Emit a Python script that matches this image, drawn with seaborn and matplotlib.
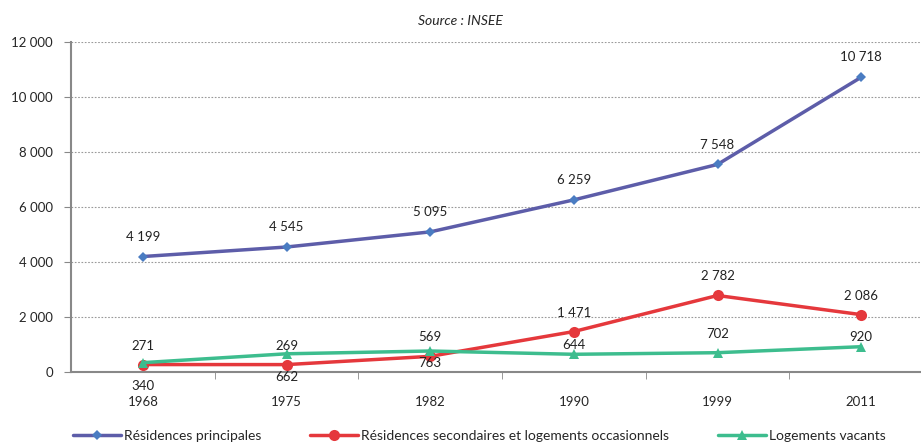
import numpy as np
import pandas as pd
import matplotlib
matplotlib.use("Agg")
import matplotlib.pyplot as plt
import seaborn as sns
from matplotlib.ticker import FuncFormatter, FixedLocator

# Data
years = ["1968", "1975", "1982", "1990", "1999", "2011"]
principales = [4199, 4545, 5095, 6259, 7548, 10718]
secondaires = [271, 269, 569, 1471, 2782, 2086]
vacants = [340, 662, 763, 644, 702, 920]

series_names = ["Résidences principales",
                "Résidences secondaires et logements occasionnels",
                "Logements vacants"]

df = pd.DataFrame({"Année": years * 3,
                   "Valeur": principales + secondaires + vacants,
                   "Série": [series_names[0]] * 6 + [series_names[1]] * 6 + [series_names[2]] * 6})

sns.set_style("white")
plt.rcParams["font.family"] = ["Lato", "DejaVu Sans"]

fig = plt.figure(figsize=(9.21, 4.45), dpi=100)
ax = fig.add_axes([71 / 921, 73 / 445, 862 / 921, 330 / 445])

palette = {series_names[0]: "#5D5DA9",
           series_names[1]: "#E5383C",
           series_names[2]: "#3DBD8E"}
markers = {series_names[0]: "D", series_names[1]: "o", series_names[2]: "^"}
msizes = {series_names[0]: 5, series_names[1]: 8, series_names[2]: 7}

for name in series_names:
    sub = df[df["Série"] == name]
    sns.lineplot(data=sub, x="Année", y="Valeur", ax=ax, color=palette[name],
                 marker=markers[name], markersize=msizes[name], linewidth=2.5,
                 markeredgewidth=0, label=name, sort=False)

# marker colour of the blue series is a bit brighter than its line
ax.lines[0].set_markerfacecolor("#4A7CC2")

# data labels (pixel offsets, as placed in the original)
off_p = [20, 20, 20, 20, 19, 20]
off_s = [19, 19, 19, 19, 19, 19]
off_v = [-23, -23, -12, 9, 19, 10]
fmt = lambda v: f"{v:,}".replace(",", " ")
for vals, offs in [(principales, off_p), (secondaires, off_s), (vacants, off_v)]:
    for i, (v, o) in enumerate(zip(vals, offs)):
        ax.annotate(fmt(v), (i, v), xytext=(0, o * 0.72), textcoords="offset points",
                    ha="center", va="center", fontsize=9.5, color="#222222")

ax.set_xlim(-0.5, 5.5)
ax.set_ylim(0, 12000)
ax.set_yticks(np.arange(0, 12001, 2000))
ax.yaxis.set_major_formatter(FuncFormatter(lambda v, p: fmt(int(v))))
ax.set_xlabel("")
ax.set_ylabel("")
ax.grid(axis="y", linestyle=(0, (1.5, 1.5)), color="#999999", linewidth=0.8)
ax.grid(axis="x", visible=False)
for s in ["top", "right"]:
    ax.spines[s].set_visible(False)
for s in ["left", "bottom"]:
    ax.spines[s].set_color("#888888")
    ax.spines[s].set_linewidth(1.5)
ax.tick_params(axis="y", length=5, color="#888888", labelsize=9.5, pad=8, left=True)
ax.tick_params(axis="x", which="major", length=0, labelsize=9.5, pad=17)
ax.xaxis.set_minor_locator(FixedLocator(np.arange(0.5, 5, 1)))
ax.tick_params(axis="x", which="minor", length=5, color="#888888", bottom=True)

ax.set_title("Source : INSEE", fontsize=10, style="italic", pad=12, x=(460 - 71) / 862)

ax.legend(loc="center left", bbox_to_anchor=(60 / 921, 9 / 445), bbox_transform=fig.transFigure,
          ncol=3, frameon=False, fontsize=10, handlelength=3.5, handletextpad=0.2,
          columnspacing=3.5)

plt.savefig("out.png", dpi=100)
